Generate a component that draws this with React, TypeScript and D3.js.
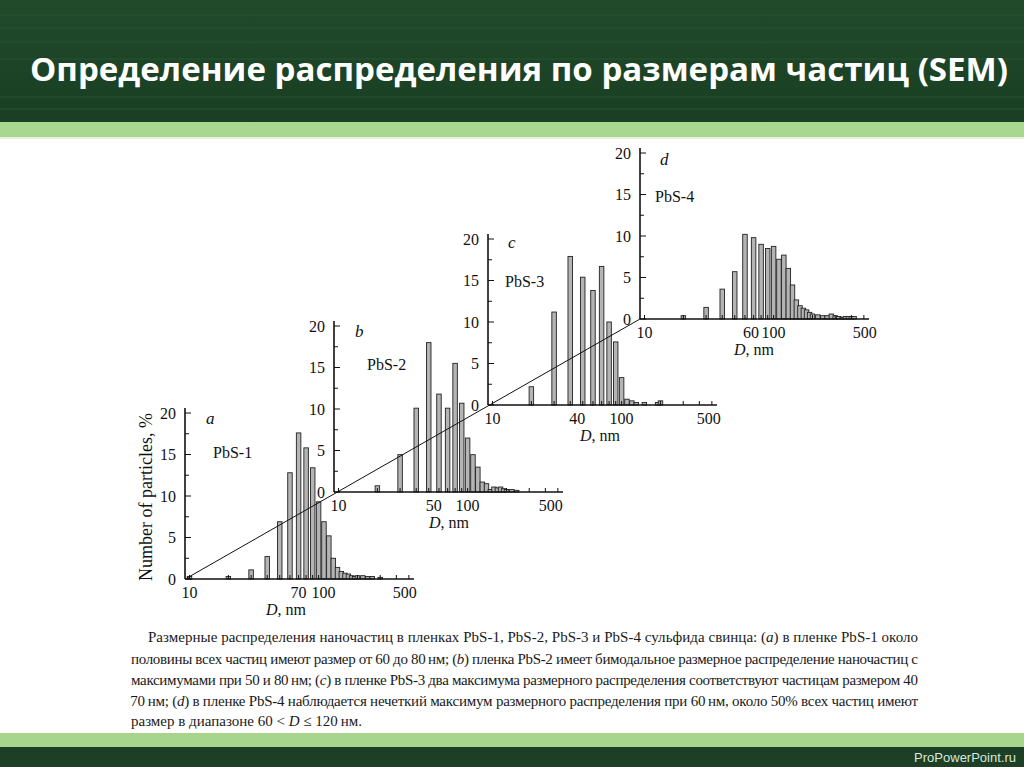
import React from 'react';
import * as d3 from 'd3';

// ---------- data ----------
const panelLetters = ['a', 'b', 'c', 'd'];
const sampleNames = ['PbS-1', 'PbS-2', 'PbS-3', 'PbS-4'];

const diametersA = [10, 20, 30, 40, 50, 60, 70, 80, 90, 100, 110, 120, 130, 140, 150, 160, 170, 180, 190, 200, 220, 240, 260, 300];
const percentA = [0.3, 0.3, 1.1, 2.7, 6.9, 12.8, 17.6, 15.8, 13.4, 9.3, 6.9, 5.2, 2.5, 1.4, 0.9, 0.7, 0.6, 0.4, 0.3, 0.4, 0.4, 0.3, 0.3, 0.2];

const diametersB = [20, 30, 40, 50, 60, 70, 80, 90, 100, 110, 120, 130, 140, 150, 160, 170, 180, 190, 200, 220, 240];
const percentB = [0.75, 4.5, 10.1, 18.0, 11.8, 10.1, 15.5, 10.7, 6.5, 4.5, 3.0, 1.2, 1.0, 0.3, 0.6, 0.5, 0.6, 0.4, 0.3, 0.3, 0.2];

const diametersC = [20, 30, 40, 50, 60, 70, 80, 90, 100, 110, 120, 130, 150, 190, 200];
const percentC = [2.2, 11.2, 17.9, 15.4, 13.8, 16.7, 10.0, 7.6, 3.3, 0.7, 0.5, 0.3, 0.3, 0.3, 0.5];

const diametersD = [20, 30, 40, 50, 60, 70, 80, 90, 100, 110, 120, 130, 140, 150, 160, 170, 180, 190, 200, 220, 240, 260, 280, 300, 320, 340, 360, 380, 400, 420];
const percentD = [0.4, 1.4, 3.6, 5.7, 10.2, 9.8, 9.0, 8.5, 8.75, 7.2, 7.7, 6.1, 4.1, 2.3, 1.6, 1.3, 1.1, 0.8, 0.6, 0.5, 0.4, 0.4, 0.6, 0.4, 0.3, 0.2, 0.3, 0.3, 0.3, 0.3];

const xTickLabelsA = [10, 70, 100, 500];
const xTickLabelsB = [10, 50, 100, 500];
const xTickLabelsC = [10, 40, 100, 500];
const xTickLabelsD = [10, 60, 100, 500];

const yMajorTicks = [0, 5, 10, 15, 20];
const yMinorTicks = [2.5, 7.5, 12.5, 17.5];
const xMinorTicks = [10, 20, 30, 40, 50, 60, 70, 80, 90, 100, 200, 300, 400, 500];

const titleText = 'Определение распределения по размерам частиц (SEM)';
const yTitle = 'Number of particles, %';
const xTitleItalic = 'D';
const xTitleRest = ', nm';

const captionLines = [
  ['Размерные распределения наночастиц в пленках PbS-1, PbS-2, PbS-3 и PbS-4 сульфида свинца: (', 'a', ') в пленке PbS-1 около'],
  ['половины всех частиц имеют размер от 60 до 80\u2009нм; (', 'b', ')  пленка PbS-2 имеет бимодальное размерное распределение наночастиц с'],
  ['максимумами при 50 и 80\u2009нм; (', 'c', ') в пленке PbS-3 два максимума размерного распределения соответствуют частицам размером 40'],
  ['и 70\u2009нм; (', 'd', ') в пленке PbS-4 наблюдается нечеткий максимум размерного распределения при 60\u2009нм, около 50% всех частиц имеют'],
  ['размер в диапазоне 60 < ', 'D', ' ≤ 120\u2009нм.'],
];
const footerText = 'ProPowerPoint.ru';

// ---------- layout ----------
const W = 1024;
const H = 767;
const origins = [[185, 579], [334, 492], [488, 405], [640, 319]];
const axisLen = 229;
const plotH = 166;
const xDomain = [9.23, 548];
const barW = 4.5;
const letterOffsets = [[21, -155], [21, -155], [20, -157], [20, -154]];
const nameOffsets = [[28, -121], [33, -122], [17, -118], [15, -117]];
const xTitleOffsets = [101, 115, 112, 114];
const xLabelShifts = [[0, 0, 5, -4], [0, 5, 0, -7], [0, 7, 0, -3], [0, 6, 0, 1]];
const captionX = [148, 131, 131, 119, 131];
const captionY = [642, 664, 685, 706, 726];
const captionRight = 918;
const captionWidths = [captionRight - 148, captionRight - 131, captionRight - 131, captionRight - 119, null];

const serif = '"Liberation Serif", "DejaVu Serif", serif';

const panelData = [
  { d: diametersA, p: percentA, labels: xTickLabelsA },
  { d: diametersB, p: percentB, labels: xTickLabelsB },
  { d: diametersC, p: percentC, labels: xTickLabelsC },
  { d: diametersD, p: percentD, labels: xTickLabelsD },
];

function Panel({ idx }: { idx: number }) {
  const [ox, oy] = origins[idx];
  const { d, p, labels } = panelData[idx];
  const x = d3.scaleLog().domain(xDomain).range([ox, ox + axisLen]);
  const y = d3.scaleLinear().domain([0, 20]).range([oy, oy - plotH]);
  const top = y(20.6);
  return (
    <g>
      {d.map((v, i) => (
        <rect
          key={'b' + i}
          x={x(v) - barW / 2}
          y={y(p[i])}
          width={barW}
          height={oy - y(p[i])}
          fill="#b4b4b4"
          stroke="#222"
          strokeWidth={0.9}
        />
      ))}
      <line x1={ox} y1={oy} x2={ox} y2={top} stroke="#111" strokeWidth={1.6} />
      <line x1={ox} y1={oy} x2={ox + axisLen} y2={oy} stroke="#111" strokeWidth={1.6} />
      {yMajorTicks.map((t) => (
        <g key={'ym' + t}>
          <line x1={ox} x2={ox + 6} y1={y(t)} y2={y(t)} stroke="#111" strokeWidth={1} />
          <text x={ox - 9} y={y(t)} dy="0.35em" textAnchor="end" fontFamily={serif} fontSize={16} fill="#111">
            {t}
          </text>
        </g>
      ))}
      {yMinorTicks.map((t) => (
        <line key={'yn' + t} x1={ox} x2={ox + 4} y1={y(t)} y2={y(t)} stroke="#111" strokeWidth={1} />
      ))}
      {xMinorTicks.map((t) => (
        <line key={'xn' + t} x1={x(t)} x2={x(t)} y1={oy} y2={oy - 4} stroke="#111" strokeWidth={1} />
      ))}
      {labels.map((t, i) => (
        <text key={'xl' + t} x={x(t) + xLabelShifts[idx][i]} y={oy + 19} textAnchor="middle" fontFamily={serif} fontSize={16} fill="#111">
          {t}
        </text>
      ))}
      <text x={ox + xTitleOffsets[idx]} y={oy + 36} textAnchor="middle" fontFamily={serif} fontSize={16} fill="#111">
        <tspan fontStyle="italic">{xTitleItalic}</tspan>
        {xTitleRest}
      </text>
      <text x={ox + letterOffsets[idx][0]} y={oy + letterOffsets[idx][1]} fontFamily={serif} fontStyle="italic" fontSize={17} fill="#111">
        {panelLetters[idx]}
      </text>
      <text x={ox + nameOffsets[idx][0]} y={oy + nameOffsets[idx][1]} fontFamily={serif} fontSize={16} fill="#111">
        {sampleNames[idx]}
      </text>
    </g>
  );
}

export default function App() {
  const first = origins[0];
  const last = origins[origins.length - 1];
  return (
    <svg width={W} height={H} style={{ position: 'absolute', left: 0, top: 0, background: '#fff' }}>
      <defs>
        <linearGradient id="hdr" x1="0" y1="0" x2="0" y2="1">
          <stop offset="0" stopColor="#214a2b" />
          <stop offset="0.5" stopColor="#1d4427" />
          <stop offset="1" stopColor="#1a3f24" />
        </linearGradient>
        <clipPath id="capclip">
          <rect x={128} y={600} width={900} height={140} />
        </clipPath>
      </defs>
      <rect x={0} y={0} width={W} height={H} fill="#ffffff" />
      {/* header */}
      <rect x={0} y={0} width={W} height={123} fill="url(#hdr)" />
      {[14, 27, 41, 58, 96, 108].map((yy, i) => (
        <rect key={'st' + i} x={0} y={yy} width={W} height={2} fill="#2e5a38" opacity={0.35} />
      ))}
      <rect x={0} y={122} width={W} height={15} fill="#a9d78f" />
      <rect x={0} y={137} width={W} height={2} fill="#e6f2de" />
      <text
        x={30}
        y={81}
        textLength={978}
        lengthAdjust="spacingAndGlyphs"
        fontFamily='"Open Sans", "Noto Sans", sans-serif'
        fontWeight={700}
        fontSize={32}
        fill="#ffffff"
      >
        {titleText}
      </text>

      {/* panels */}
      {origins.map((_, i) => (
        <Panel key={i} idx={i} />
      ))}
      <line x1={first[0] + 2} y1={first[1] - 1} x2={last[0]} y2={last[1]} stroke="#111" strokeWidth={1} />
      <text
        transform={`translate(152, 497) rotate(-90)`}
        textAnchor="middle"
        fontFamily={serif}
        fontSize={18}
        fill="#111"
      >
        {yTitle}
      </text>

      {/* caption */}
      <g clipPath="url(#capclip)">
        {captionLines.map((ln, i) => (
          <text
            key={'cap' + i}
            x={captionX[i]}
            y={captionY[i]}
            fontFamily={serif}
            fontSize={15}
            fill="#1a1a1a"
            {...(captionWidths[i] ? { textLength: captionWidths[i], lengthAdjust: 'spacing' } : {})}
          >
            {ln[0]}
            <tspan fontStyle="italic">{ln[1]}</tspan>
            {ln[2]}
          </text>
        ))}
      </g>

      {/* footer */}
      <rect x={0} y={733} width={W} height={15} fill="#a6d58b" />
      <rect x={0} y={747} width={W} height={20} fill="#1c3f25" />
      <text x={1016} y={762} textAnchor="end" fontFamily='"Liberation Sans", Arial, sans-serif' fontSize={13} fill="#d9e6dc">
        {footerText}
      </text>
    </svg>
  );
}
